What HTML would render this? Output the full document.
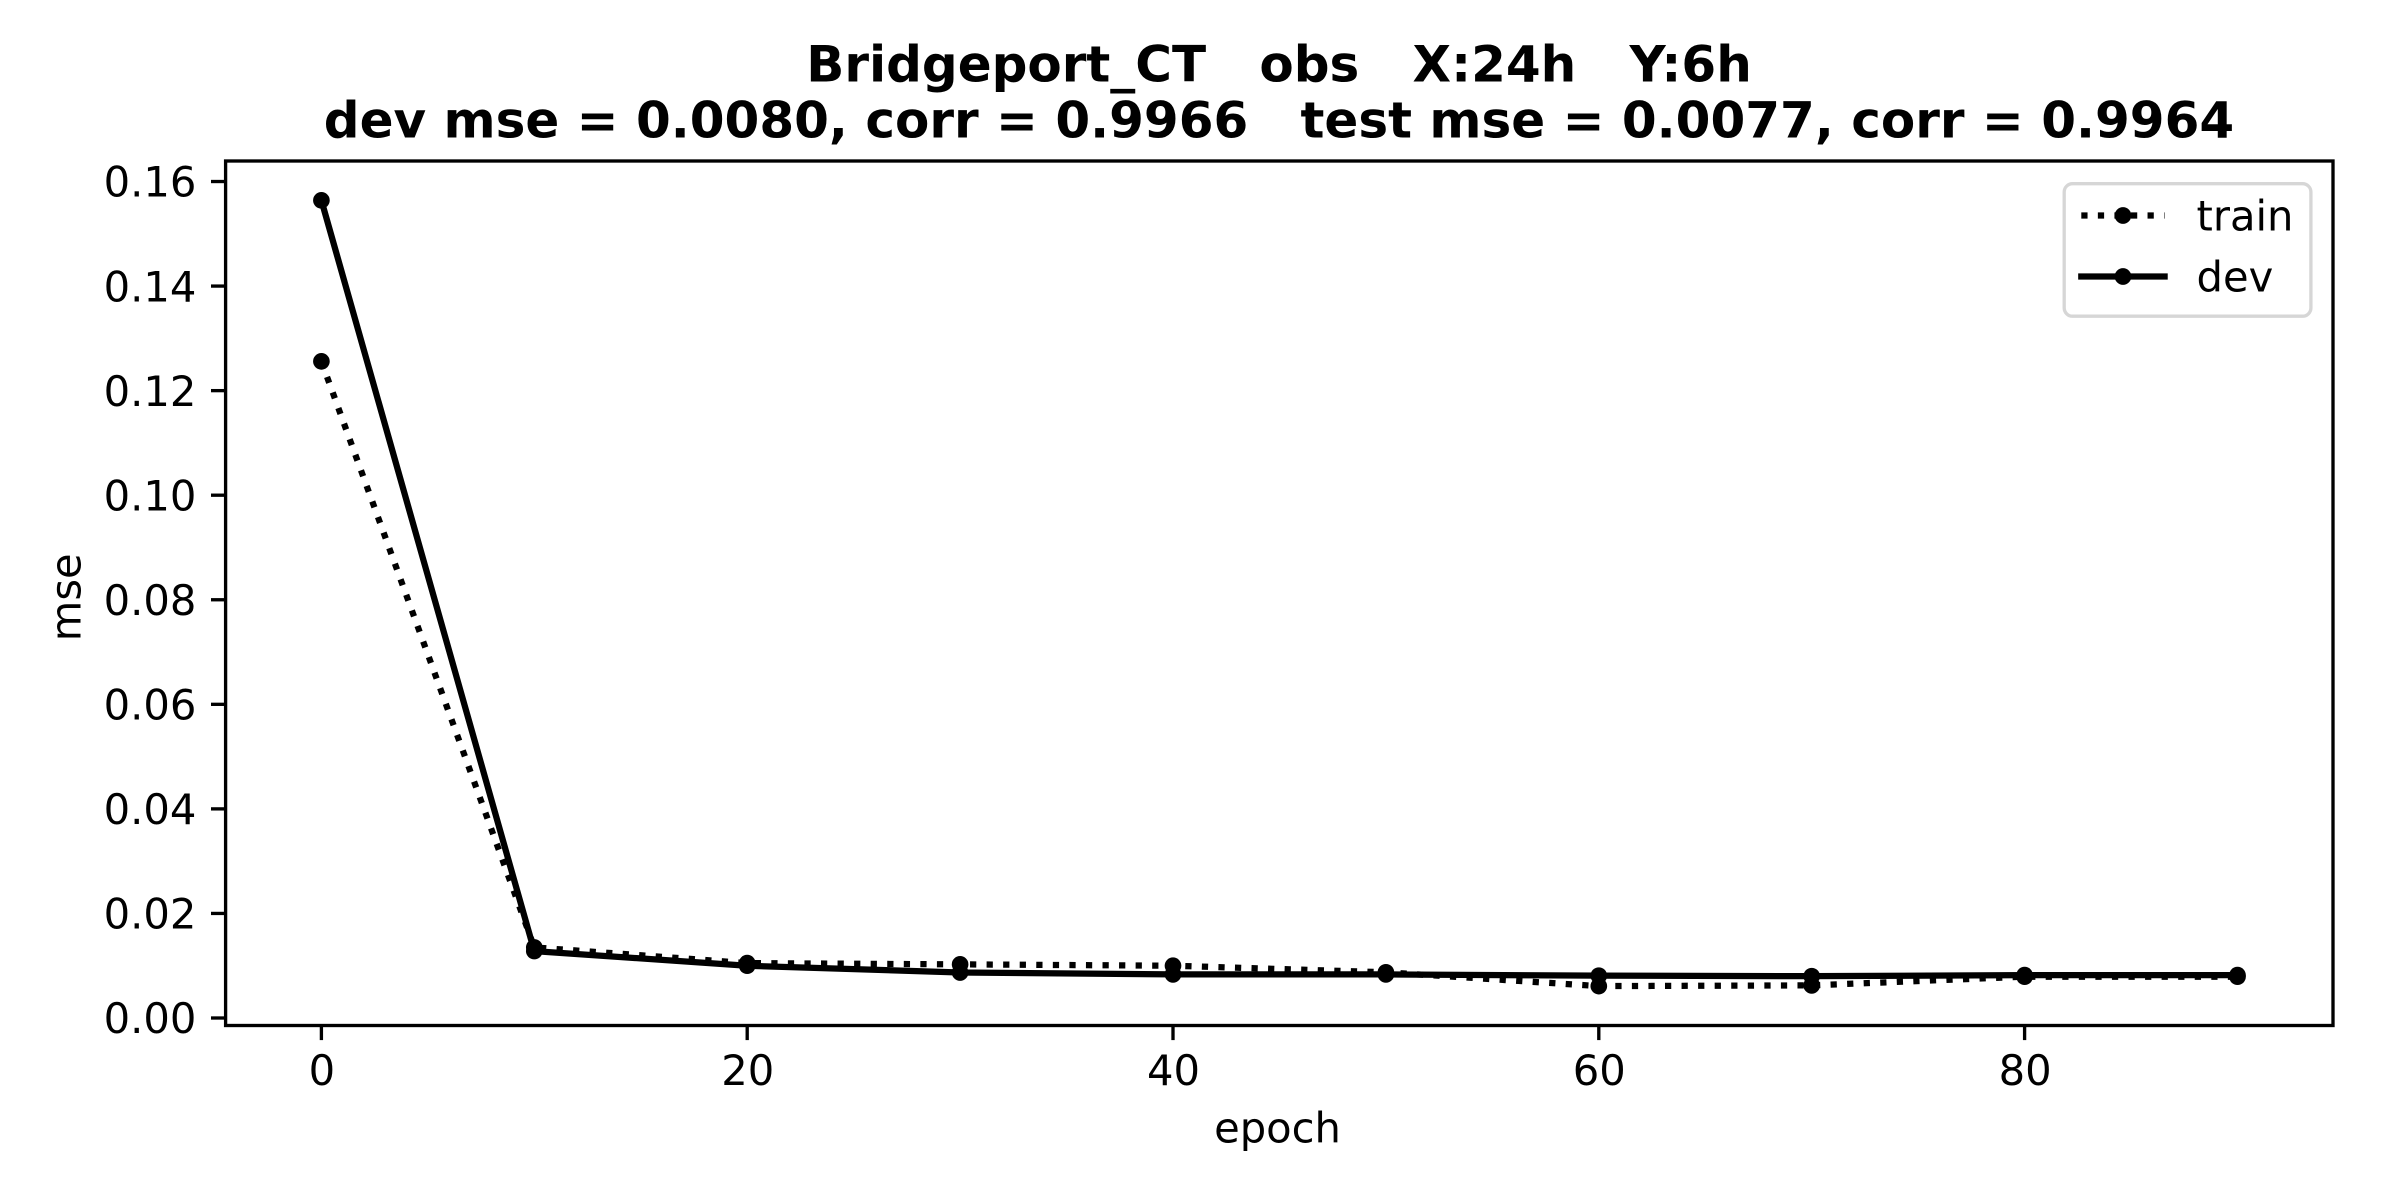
<!DOCTYPE html>
<html lang="en">
<head>
<meta charset="utf-8">
<title>Bridgeport_CT training curves</title>
<style>
  html, body { margin: 0; padding: 0; background: #fff; }
  body { width: 2400px; height: 1200px; overflow: hidden; }
  svg { display: block; }
  text { font-family: "DejaVu Sans", "Liberation Sans", sans-serif; fill: #000; white-space: pre; }
  .tick { font-size: 41.67px; }
  .title { font-size: 50px; font-weight: bold; text-anchor: middle; }
</style>
</head>
<body>
<svg id="chart" xmlns="http://www.w3.org/2000/svg" width="2400" height="1200" viewBox="0 0 2400 1200">
  <rect x="0" y="0" width="2400" height="1200" fill="#fff"/>
  <g id="ticks"></g>
  <g id="series"></g>
  <rect x="225.6" y="161" width="2107.4" height="864.5" fill="none" stroke="#000" stroke-width="3.33"/>
  <text class="title" x="1279" y="81.7" xml:space="preserve" style="word-spacing:0.35px">Bridgeport_CT   obs   X:24h   Y:6h</text>
  <text class="title" x="1279" y="137.3" xml:space="preserve">dev mse = 0.0080, corr = 0.9966   test mse = 0.0077, corr = 0.9964</text>
  <text class="tick" x="1277.5" y="1142.7" text-anchor="middle">epoch</text>
  <text class="tick" x="0" y="0" text-anchor="middle" transform="translate(80.3 597.3) rotate(-90)">mse</text>
  <g>
    <rect x="2064.2" y="183.7" width="246.7" height="132.5" rx="8.3" ry="8.3" fill="#fff" fill-opacity="0.8" stroke="#d6d6d6" stroke-width="3.33"/>
    <g>
      <line x1="2081.3" y1="215.5" x2="2164.6" y2="215.5" stroke="#000" stroke-width="6.25" stroke-dasharray="6.25 10.31"/>
      <circle cx="2123" cy="215.5" r="8.33" fill="#000"/>
      <text class="tick" x="2196.5" y="230.5">train</text>
    </g>
    <g>
      <line x1="2081.3" y1="276.5" x2="2164.6" y2="276.5" stroke="#000" stroke-width="6.25" stroke-linecap="square"/>
      <circle cx="2123" cy="276.5" r="8.33" fill="#000"/>
      <text class="tick" x="2196.5" y="291.5">dev</text>
    </g>
  </g>
</svg>
<script>
const epochs = [0, 10, 20, 30, 40, 50, 60, 70, 80, 90];
const trainMse = [0.1256, 0.0135, 0.0105, 0.01026, 0.0100, 0.00874, 0.0061, 0.00624, 0.0079, 0.0079];
const devMse = [0.1564, 0.0128, 0.0100, 0.0087, 0.00834, 0.00834, 0.0081, 0.0080, 0.0082, 0.0082];
const xTickValues = [0, 20, 40, 60, 80];
const xTickLabels = ['0', '20', '40', '60', '80'];
const yTickValues = [0, 0.02, 0.04, 0.06, 0.08, 0.10, 0.12, 0.14, 0.16];
const yTickLabels = ['0.00', '0.02', '0.04', '0.06', '0.08', '0.10', '0.12', '0.14', '0.16'];

const SVG_NS = 'http://www.w3.org/2000/svg';
function xScale(v) { return 321.4 + v * 21.29; }
function yScale(v) { return 1018 - v * 5228; }

function make(tag, attrs, parent) {
  const el = document.createElementNS(SVG_NS, tag);
  Object.keys(attrs).forEach(function (k) { el.setAttribute(k, attrs[k]); });
  parent.appendChild(el);
  return el;
}

const ticksGroup = document.getElementById('ticks');
const seriesGroup = document.getElementById('series');

xTickValues.forEach(function (v, i) {
  const x = xScale(v);
  const mark = make('line', { x1: x, y1: 1025.5, x2: x, y2: 1040.1, stroke: '#000', 'stroke-width': 3.33 }, ticksGroup);
  
  
  const label = make('text', { class: 'tick', x: x + 0.5, y: 1085, 'text-anchor': 'middle' }, ticksGroup);
  
  
  label.textContent = xTickLabels[i];
});

yTickValues.forEach(function (v, i) {
  const y = yScale(v);
  const mark = make('line', { x1: 211, y1: y, x2: 225.6, y2: y, stroke: '#000', 'stroke-width': 3.33 }, ticksGroup);
  
  
  const label = make('text', { class: 'tick', x: 196.4, y: y + 15.2, 'text-anchor': 'end' }, ticksGroup);
  
  
  label.textContent = yTickLabels[i];
});

function drawSeries(values, dash, key) {
  const pts = values.map(function (v, i) { return xScale(epochs[i]) + ',' + yScale(v); }).join(' ');
  const line = make('polyline', { points: pts, fill: 'none', stroke: '#000', 'stroke-width': 6.25, 'stroke-linejoin': 'round' }, seriesGroup);
  if (dash) { line.setAttribute('stroke-dasharray', dash); }
  
  
  values.forEach(function (v, i) {
    const dot = make('circle', { cx: xScale(epochs[i]), cy: yScale(v), r: 8.33, fill: '#000' }, seriesGroup);
    
    
  });
}

drawSeries(trainMse, '6.25 10.31', 'train');
drawSeries(devMse, null, 'dev');
</script>
</body>
</html>
